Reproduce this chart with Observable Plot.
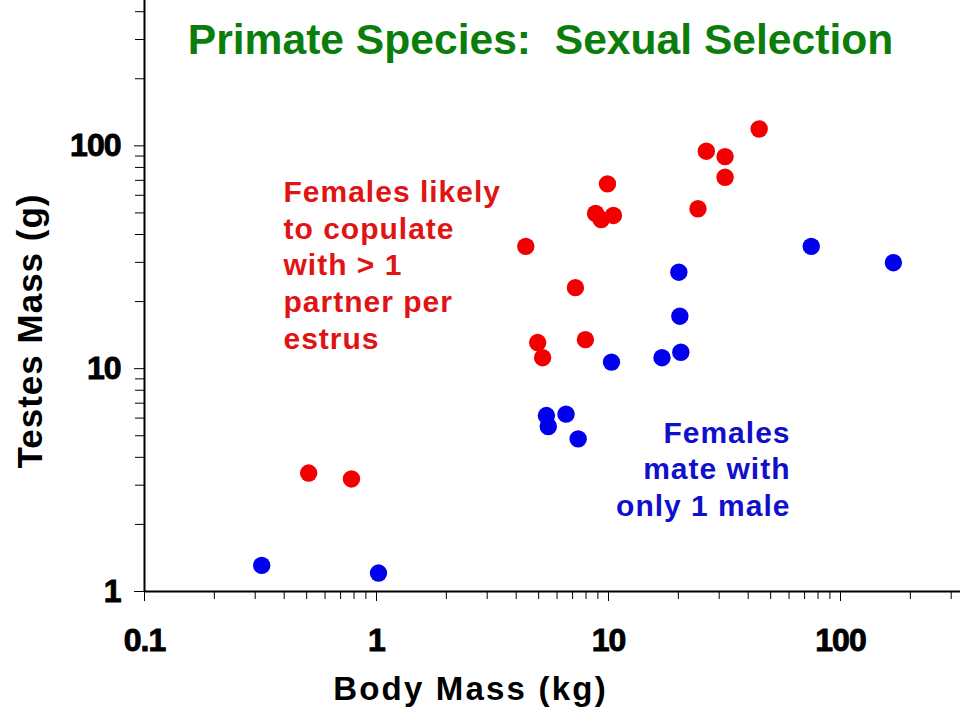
<!DOCTYPE html>
<html>
<head>
<meta charset="utf-8">
<script src="https://cdn.jsdelivr.net/npm/d3@7"></script>
<script src="https://cdn.jsdelivr.net/npm/@observablehq/plot@0.6"></script>
<style>
  html, body { margin: 0; padding: 0; background: #fff; }
  #chart svg { display: block; }
  g[aria-label="x-axis tick label"] text,
  g[aria-label="y-axis tick label"] text {
    stroke: #000; stroke-width: 0.9px; letter-spacing: -1px;
  }
</style>
</head>
<body>
<div id="chart"></div>
<script>
// Species where females copulate with more than one partner per estrus
const multiBodyKg   = [0.51, 0.78, 4.4, 4.95, 5.2, 7.2, 7.95, 9.9, 8.8, 9.3, 10.5, 24.3, 26.4, 31.8, 31.8, 44.6];
const multiTestesG  = [3.4, 3.2, 35.4, 13.1, 11.2, 23.1, 13.5, 67.5, 49.7, 46.7, 48.7, 52.2, 94.6, 89.5, 72.3, 119];

// Species where females mate with a single male
const singleBodyKg  = [0.32, 1.02, 5.4, 5.5, 6.56, 7.4, 10.3, 17.0, 20.5, 20.3, 20.1, 74.8, 169];
const singleTestesG = [1.31, 1.21, 6.16, 5.5, 6.25, 4.84, 10.7, 11.2, 11.85, 17.2, 27.1, 35.4, 29.9];

// Axis ticks
const xMajor = [0.1, 1, 10, 100];
const xMajorLabels = ["0.1", "1", "10", "100"];
const yMajor = [1, 10, 100];
const yMajorLabels = ["1", "10", "100"];
const xDomain = [0.1, 329];
const yDomain = [1, 449];

const titleText = "Primate Species:  Sexual Selection";
const xTitle = "Body Mass (kg)";
const yTitle = "Testes Mass (g)";
const multiNote = ["Females likely", "to copulate", "with > 1", "partner per", "estrus"];
const singleNote = ["Females", "mate with", "only 1 male"];

const minorTicks = (majors, max) =>
  majors.flatMap(d => d3.range(2, 10).map(k => +(d * k).toPrecision(3))).filter(v => v <= max);
const xMinor = minorTicks(xMajor, xDomain[1]);
const yMinor = minorTicks(yMajor, yDomain[1]);

const multi = multiBodyKg.map((b, i) => ({body: b, testes: multiTestesG[i]}));
const single = singleBodyKg.map((b, i) => ({body: b, testes: singleTestesG[i]}));

const font = "'Liberation Sans', Arial, sans-serif";
const RED = "#f20000", RED_TEXT = "#e01414";
const BLUE = "#0000ee", BLUE_TEXT = "#1010cc";
const GREEN = "#0b7d0b";

const chart = Plot.plot({
  width: 960,
  height: 720,
  marginLeft: 144,
  marginRight: 0,
  marginTop: 0,
  marginBottom: 129,
  style: {fontFamily: font, background: "#fff", color: "#000"},
  x: {type: "log", domain: xDomain},
  y: {type: "log", domain: yDomain},
  marks: [
    // minor ticks
    Plot.axisX({ticks: xMinor, tickSize: 8, tickFormat: () => "", label: null}),
    Plot.axisY({ticks: yMinor, tickSize: 9, tickFormat: () => "", label: null}),
    // major ticks with labels
    Plot.axisX({
      ticks: xMajor, tickSize: 10, tickPadding: 27, label: null,
      tickFormat: d => xMajorLabels[xMajor.indexOf(d)],
      fontSize: 32, fontWeight: "bold"
    }),
    Plot.axisY({
      ticks: yMajor, tickSize: 10, tickPadding: 14, label: null,
      tickFormat: d => yMajorLabels[yMajor.indexOf(d)],
      fontSize: 32, fontWeight: "bold"
    }),
    // axis lines
    Plot.ruleY([yDomain[0]], {stroke: "#000", strokeWidth: 2}),
    Plot.ruleX([xDomain[0]], {stroke: "#000", strokeWidth: 2}),
    // data
    Plot.dot(single, {x: "body", y: "testes", r: 8.7, fill: BLUE, stroke: null}),
    Plot.dot(multi, {x: "body", y: "testes", r: 8.7, fill: RED, stroke: null}),
    // title
    Plot.text([titleText], {
      frameAnchor: "top-left", dx: 396, dy: 53, lineAnchor: "bottom", textAnchor: "middle",
      fontSize: 42.6, fontWeight: "bold", fill: GREEN
    }),
    // axis titles
    Plot.text([xTitle], {
      frameAnchor: "bottom-left", dx: 326, dy: 108, lineAnchor: "bottom", textAnchor: "middle",
      fontSize: 33, fontWeight: "bold", fill: "#000"
    }),
    Plot.text([yTitle], {
      frameAnchor: "left", dx: -103, dy: 35, rotate: -90, lineAnchor: "bottom", textAnchor: "middle",
      fontSize: 35, fontWeight: "bold", fill: "#000"
    }),
    // group notes
    Plot.text([multiNote.join("\n")], {
      frameAnchor: "top-left", dx: 139, dy: 175.4, lineAnchor: "top", textAnchor: "start",
      lineHeight: 1.222, fontSize: 30, fontWeight: "bold", fill: RED_TEXT
    }),
    Plot.text([singleNote.join("\n")], {
      frameAnchor: "top-left", dx: 646, dy: 416.4, lineAnchor: "top", textAnchor: "end",
      lineHeight: 1.217, fontSize: 30, fontWeight: "bold", fill: BLUE_TEXT
    })
  ]
});

// letter spacing on the larger labels
d3.select(chart).selectAll("text").each(function () {
  const t = this.textContent;
  if (t === xTitle) this.style.letterSpacing = "2.2px";
  if (t === yTitle) this.style.letterSpacing = "1px";
});
d3.select(chart).selectAll("g[aria-label='text'] text").filter(function () {
  return this.querySelector("tspan");
}).style("letter-spacing", "1px");

document.getElementById("chart").appendChild(chart);
</script>
</body>
</html>
